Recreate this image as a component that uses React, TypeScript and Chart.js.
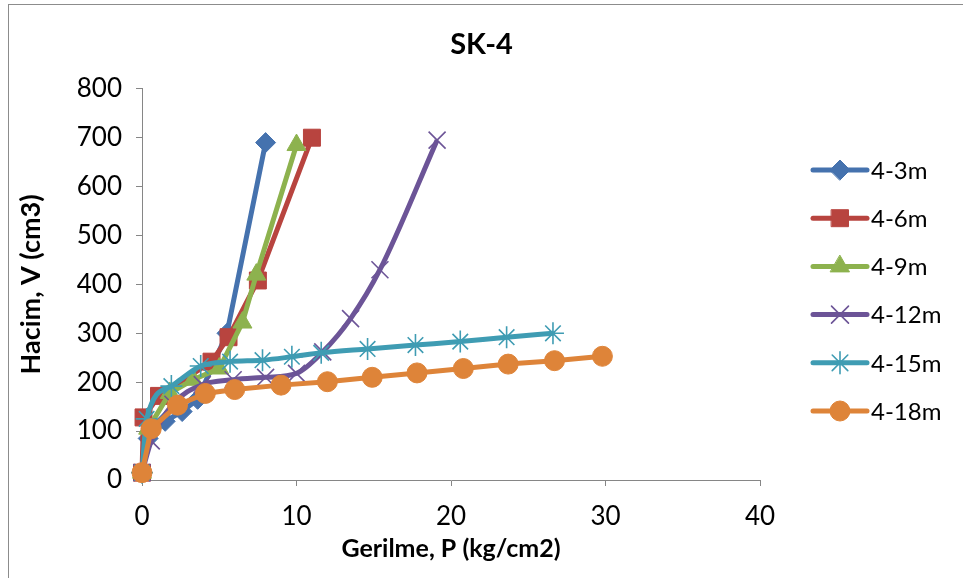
import React, { useEffect, useRef } from 'react';
import { Chart, registerables } from 'chart.js';
import { drawPoint } from 'chart.js/helpers';

Chart.register(...registerables);

const chartTitle = 'SK-4';
const xAxisTitle = 'Gerilme, P (kg/cm2)';
const yAxisTitle = 'Hacim, V (cm3)';
const xTicks = [0, 10, 20, 30, 40];
const yTicks = [0, 100, 200, 300, 400, 500, 600, 700, 800];

const seriesNames = ['4-3m', '4-6m', '4-9m', '4-12m', '4-15m', '4-18m'];

const x43 = [0, 0.4, 1.5, 2.6, 3.6, 5.5, 8.0];
const y43 = [15, 85, 120, 140, 165, 300, 690];

const x46 = [0, 0.1, 1.1, 4.5, 5.6, 7.5, 11.0];
const y46 = [15, 128, 172, 242, 292, 408, 700];

const x49 = [0, 0.4, 1.8, 3.3, 5.0, 6.5, 7.4, 10.0];
const y49 = [15, 105, 178, 205, 228, 322, 420, 685];

const x412 = [0, 0.6, 2.0, 3.9, 5.9, 8.0, 10.0, 11.7, 13.5, 15.4, 19.1];
const y412 = [15, 80, 155, 195, 205, 210, 218, 262, 330, 430, 695];

const x415 = [0, 0.3, 1.9, 3.8, 5.7, 7.8, 9.7, 11.6, 14.6, 17.7, 20.6, 23.6, 26.6];
const y415 = [15, 125, 192, 233, 242, 245, 252, 260, 268, 276, 283, 292, 300];

const x418 = [0, 0.6, 2.3, 4.1, 6.0, 9.0, 12.0, 14.9, 17.8, 20.8, 23.7, 26.7, 29.8];
const y418 = [15, 105, 153, 177, 185, 194, 201, 210, 219, 228, 237, 244, 253];

const seriesX = [x43, x46, x49, x412, x415, x418];
const seriesY = [y43, y46, y49, y412, y415, y418];

const colors = ['#4572AE', '#B8443F', '#8DB24E', '#6C5497', '#3F9CB3', '#DE8439'];
const pointStyles = ['rectRot', 'rect', 'triangle', 'crossRot', 'star', 'circle'];
const pointRadii = [10, 12, 11, 12, 11, 10];
const smooth = [false, false, false, true, true, false];

const FONT = 'Lato, "Open Sans", sans-serif';

export default function App() {
  const ref = useRef<HTMLCanvasElement>(null);

  useEffect(() => {
    const legendPlugin = {
      id: 'sideLegend',
      afterDraw(chart: any) {
        const ctx = chart.ctx;
        const x0 = 813;
        const x1 = 867;
        const startY = 170;
        const gap = 48.2;
        ctx.save();
        chart.data.datasets.forEach((ds: any, i: number) => {
          const y = startY + i * gap;
          ctx.strokeStyle = ds.borderColor;
          ctx.lineWidth = 5;
          ctx.lineCap = 'round';
          ctx.beginPath();
          ctx.moveTo(x0, y);
          ctx.lineTo(x1, y);
          ctx.stroke();
          ctx.fillStyle = ds.pointBackgroundColor;
          ctx.strokeStyle = ds.pointBorderColor;
          ctx.lineWidth = ds.pointBorderWidth;
          drawPoint(ctx, { pointStyle: ds.pointStyle, rotation: 0, radius: ds.pointRadius, borderWidth: ds.pointBorderWidth }, (x0 + x1) / 2, y);
          ctx.fillStyle = '#000';
          ctx.font = `24px ${FONT}`;
          ctx.textBaseline = 'middle';
          ctx.textAlign = 'left';
          ctx.fillText(ds.label, 871, y + 1);
        });
        ctx.restore();
      },
    };

    const datasets = seriesNames.map((name, i) => {
      const isLineMarker = pointStyles[i] === 'crossRot' || pointStyles[i] === 'star';
      return {
        label: name,
        data: seriesX[i].map((x, j) => ({ x, y: seriesY[i][j] })),
        showLine: true,
        borderColor: colors[i],
        backgroundColor: colors[i],
        borderWidth: 5,
        pointStyle: pointStyles[i],
        pointRadius: pointRadii[i],
        pointHoverRadius: pointRadii[i],
        pointBackgroundColor: colors[i],
        pointBorderColor: colors[i],
        pointBorderWidth: isLineMarker ? 1.6 : 1,
        cubicInterpolationMode: smooth[i] ? 'monotone' : 'default',
        tension: 0,
        clip: false,
        order: seriesNames.length - i,
      };
    });

    const axisColor = '#868686';
    const chart = new Chart(ref.current as HTMLCanvasElement, {
      type: 'scatter',
      data: { datasets: datasets as any },
      plugins: [legendPlugin],
      options: {
        animation: false,
        responsive: false,
        devicePixelRatio: 1,
        layout: { padding: { left: 0, right: 0, top: 0, bottom: 0 } },
        plugins: {
          legend: { display: false },
          tooltip: { enabled: false },
          title: {
            display: true,
            text: chartTitle,
            color: '#000',
            font: { family: FONT, size: 29, weight: 'bold' },
            padding: { top: 27, bottom: 27 },
          },
        },
        scales: {
          x: {
            type: 'linear',
            min: 0,
            max: 40,
            afterBuildTicks: (s: any) => {
              s.ticks = xTicks.map((v) => ({ value: v }));
            },
            afterFit: (s: any) => {
              s.height = 98;
            },
            grid: { display: true, drawOnChartArea: false, drawTicks: true, tickLength: 6, color: axisColor },
            border: { color: axisColor, width: 1 },
            ticks: { color: '#000', font: { family: FONT, size: 26 }, padding: 15 },
            title: {
              display: true,
              text: xAxisTitle,
              color: '#000',
              font: { family: FONT, size: 25, weight: 'bold' },
              padding: { top: 0, bottom: 14 },
            },
          },
          y: {
            type: 'linear',
            min: 0,
            max: 800,
            afterBuildTicks: (s: any) => {
              s.ticks = yTicks.map((v) => ({ value: v }));
            },
            afterFit: (s: any) => {
              s.width = 142;
            },
            grid: { display: true, drawOnChartArea: false, drawTicks: true, tickLength: 6, color: axisColor },
            border: { color: axisColor, width: 1 },
            ticks: { color: '#000', font: { family: FONT, size: 26 }, padding: 14 },
            title: {
              display: true,
              text: yAxisTitle,
              color: '#000',
              font: { family: FONT, size: 27, weight: 'bold' },
              padding: { top: 15, bottom: 0 },
            },
          },
          legendSpace: {
            type: 'linear',
            position: 'right',
            display: true,
            afterFit: (s: any) => {
              s.width = 203;
            },
            grid: { display: false, drawTicks: false },
            border: { display: false },
            ticks: { display: false },
          },
        },
      } as any,
    });
    return () => chart.destroy();
  }, []);

  return (
    <div style={{ position: 'fixed', left: 0, top: 0, width: 963, height: 578, overflow: 'hidden', background: '#fff' }}>
      <div style={{ position: 'absolute', left: 8, top: 4, width: 1000, height: 640, border: '1px solid #8c8c8c' }} />
      <canvas ref={ref} width={963} height={578} style={{ position: 'absolute', left: 0, top: 0, width: 963, height: 578 }} />
    </div>
  );
}
